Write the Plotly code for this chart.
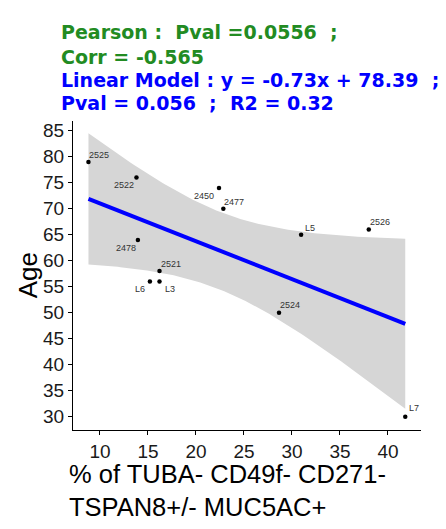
import numpy as np
import plotly.graph_objects as go

# ---- data ----
sample_ids = ["2525", "2522", "2450", "2477", "2478", "2521", "L6", "L3", "L5", "2526", "2524", "L7"]
pct_values = [8.8, 13.8, 22.4, 22.85, 13.95, 16.2, 15.2, 16.2, 30.95, 38.0, 28.65, 41.8]
age_values = [79, 76, 74, 70, 64, 58, 56, 56, 65, 66, 50, 30]

title_lines = [
    ("Pearson :\u00a0\u00a0Pval =0.0556\u00a0\u00a0;", "#228B22"),
    ("Corr = -0.565", "#228B22"),
    ("Linear Model : y = -0.73x + 78.39\u00a0\u00a0;", "#0000FF"),
    ("Pval = 0.056\u00a0\u00a0;\u00a0\u00a0R2 = 0.32", "#0000FF"),
]
x_title = "% of TUBA- CD49f- CD271-<br>TSPAN8+/- MUC5AC+"
y_title = "Age"
x_ticks = [10, 15, 20, 25, 30, 35, 40]
y_ticks = [30, 35, 40, 45, 50, 55, 60, 65, 70, 75, 80, 85]

# label placement (style only): (xanchor, xshift, yshift)
label_style = {
    "2525": ("left", -1, 7), "2522": ("right", 0, -7), "2450": ("right", -3, -8),
    "2477": ("left", -1, 7), "2478": ("right", 0, -8), "2521": ("left", -1, 7),
    "L6": ("right", -3, -7), "L3": ("left", 3, -7), "L5": ("left", 2, 7),
    "2526": ("left", -1, 8), "2524": ("left", -1, 8), "L7": ("left", 2, 9),
}

# ---- linear fit + 95% confidence band (like geom_smooth(method="lm")) ----
x = np.array(pct_values, dtype=float)
y = np.array(age_values, dtype=float)
n = len(x)
slope, intercept = np.polyfit(x, y, 1)
resid = y - (slope * x + intercept)
s = np.sqrt(np.sum(resid ** 2) / (n - 2))
xm = x.mean()
sxx = np.sum((x - xm) ** 2)
t_crit = 2.228  # t(0.975, df=10)
xg = np.linspace(x.min(), x.max(), 120)
yg = slope * xg + intercept
half = t_crit * s * np.sqrt(1.0 / n + (xg - xm) ** 2 / sxx)
upper = yg + half
lower = yg - half

FONT = "Liberation Sans, Arial, sans-serif"
TITLE_FONT = "DejaVu Sans, Liberation Sans, Arial, sans-serif"

fig = go.Figure()
fig.add_trace(go.Scatter(
    x=np.concatenate([xg, xg[::-1]]), y=np.concatenate([upper, lower[::-1]]),
    fill="toself", fillcolor="#D6D6D6", line=dict(width=0), mode="lines",
    hoverinfo="skip", showlegend=False))
fig.add_trace(go.Scatter(
    x=xg, y=yg, mode="lines", line=dict(color="#0000FF", width=4),
    showlegend=False))
fig.add_trace(go.Scatter(
    x=x, y=y, mode="markers", marker=dict(color="black", size=4.5),
    text=sample_ids, showlegend=False))

annotations = []
for sid, xv, yv in zip(sample_ids, pct_values, age_values):
    xa, xs, ys = label_style[sid]
    annotations.append(dict(
        x=xv, y=yv, xref="x", yref="y", text=sid, showarrow=False,
        xanchor=xa, yanchor="middle", xshift=xs, yshift=ys,
        font=dict(family=FONT, size=9, color="#333333")))

title_y = [1.287, 1.208, 1.133, 1.058]
for (txt, col), ty in zip(title_lines, title_y):
    annotations.append(dict(
        x=-0.04, y=ty, xref="paper", yref="paper", text="<b>" + txt + "</b>",
        showarrow=False, xanchor="left", yanchor="middle",
        font=dict(family=TITLE_FONT, size=19, color=col)))

annotations.append(dict(
    x=-0.018, y=-0.09, xref="paper", yref="paper", text=x_title,
    showarrow=False, xanchor="left", yanchor="top", align="left",
    font=dict(family=FONT, size=25.5, color="black")))
annotations.append(dict(
    x=-0.13, y=0.5, xref="paper", yref="paper", text=y_title, textangle=-90,
    showarrow=False, xanchor="center", yanchor="middle",
    font=dict(family=FONT, size=26, color="black")))

axis_common = dict(
    showline=True, linecolor="black", linewidth=1.1, ticks="outside",
    ticklen=4, tickcolor="black", tickwidth=1, showgrid=False, zeroline=False,
    tickfont=dict(family=FONT, size=19, color="#1a1a1a"))

fig.update_layout(
    width=446, height=529,
    margin=dict(l=73, r=25, t=121, b=99),
    paper_bgcolor="white", plot_bgcolor="white",
    xaxis=dict(range=[7.19, 43.44], tickvals=x_ticks, **axis_common),
    yaxis=dict(range=[27.44, 86.87], tickvals=y_ticks, **axis_common),
    annotations=annotations,
    showlegend=False,
)

fig.write_html("out.html")
